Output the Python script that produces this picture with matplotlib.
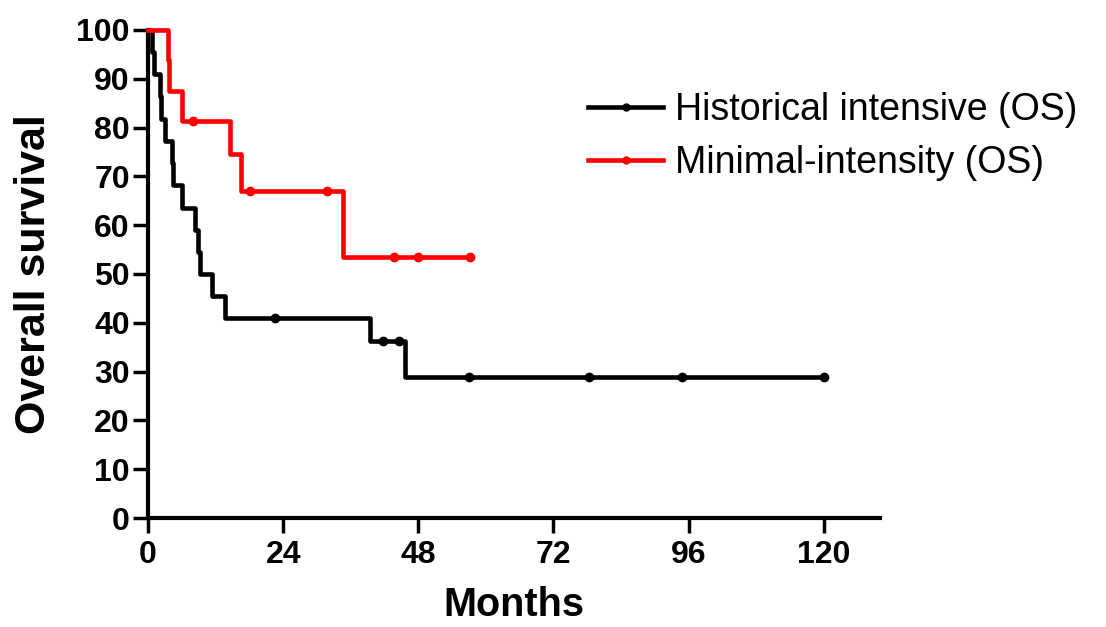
import numpy as np
import matplotlib.pyplot as plt
from matplotlib.lines import Line2D

plt.rcParams['font.family'] = ['Liberation Sans', 'DejaVu Sans']

# Kaplan-Meier steps
hist_t = [0, 0.7, 1.0, 2.2, 2.4, 3.0, 4.2, 4.4, 6.0, 8.4, 8.8, 9.2, 11.3, 13.7, 39.5, 45.7, 120]
hist_s = [100, 95.5, 90.9, 86.4, 81.8, 77.3, 72.7, 68.2, 63.6, 59.1, 54.5, 50.0, 45.5, 40.9, 36.2, 28.8, 28.8]
hist_cens_t = [22.6, 41.8, 44.5, 57.0, 78.3, 94.9, 120]
hist_cens_s = [40.9, 36.2, 36.2, 28.8, 28.8, 28.8, 28.8]

mini_t = [0, 3.5, 3.8, 6.0, 14.6, 16.6, 34.7, 57.2]
mini_s = [100, 93.8, 87.5, 81.3, 74.5, 67.0, 53.4, 53.4]
mini_cens_t = [8.0, 18.1, 31.8, 43.6, 48.0, 57.2]
mini_cens_s = [81.3, 67.0, 67.0, 53.4, 53.4, 53.4]

xticks = [0, 24, 48, 72, 96, 120]
yticks = list(range(0, 101, 10))

red = '#ff0000'

fig = plt.figure(figsize=(11.06, 6.27), dpi=100)
ax = fig.add_axes([0.1338, 0.1738, 0.7957 - 0.1338, 0.9522 - 0.1738])

# curves
ax.step(hist_t, hist_s, where='post', color='black', lw=3.3, clip_on=False, zorder=3)
ax.plot(hist_cens_t, hist_cens_s, 'o', color='black', ms=6, clip_on=False, zorder=4)
ax.step(mini_t, mini_s, where='post', color=red, lw=3.3, clip_on=False, zorder=3)
ax.plot(mini_cens_t, mini_cens_s, 'o', color=red, ms=6, clip_on=False, zorder=4)

ax.set_xlim(0, 130)
ax.set_ylim(0, 100)
ax.set_xticks(xticks)
ax.set_yticks(yticks)

for s in ['top', 'right']:
    ax.spines[s].set_visible(False)
for s in ['left', 'bottom']:
    ax.spines[s].set_linewidth(3)
ax.tick_params(direction='out', length=11, width=2.5, labelsize=23)
ax.tick_params(axis='y', pad=2)
ax.tick_params(axis='x', pad=5)
for lab in ax.get_xticklabels() + ax.get_yticklabels():
    lab.set_fontweight('bold')

ax.set_xlabel('Months', fontsize=28.5, fontweight='bold', labelpad=11)
ax.set_ylabel('Overall survival', fontsize=31, fontweight='bold', labelpad=16)

# legend
handles = [Line2D([], [], color='black', lw=3.3, marker='o', ms=5),
           Line2D([], [], color=red, lw=3.3, marker='o', ms=5)]
labels = ['Historical intensive (OS)', 'Minimal-intensity (OS)']
ax.legend(handles, labels, loc='upper left', bbox_to_anchor=(0.532, 0.853),
          bbox_transform=fig.transFigure, frameon=False, fontsize=27,
          handlelength=2.0, handletextpad=0.3, labelspacing=0.45,
          borderaxespad=0, borderpad=0)

plt.savefig('out.png', dpi=100)
